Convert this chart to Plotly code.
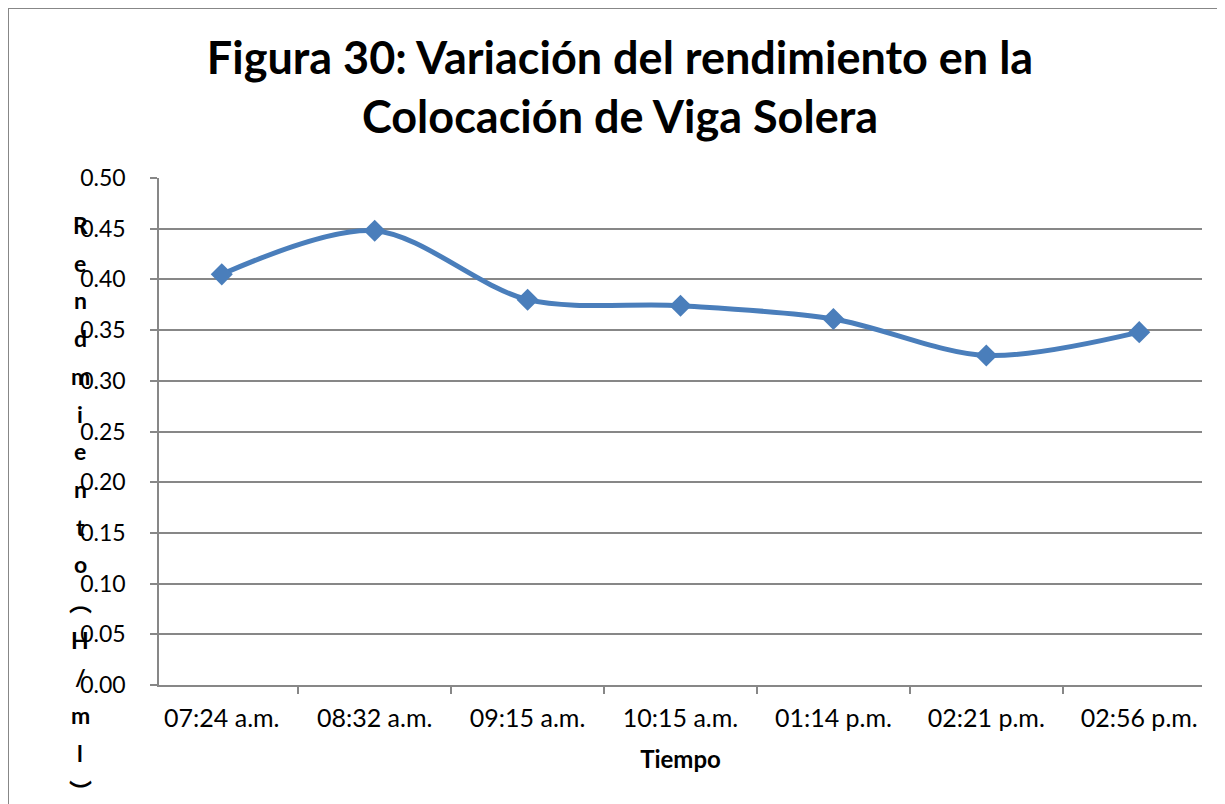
import plotly.graph_objects as go

# data
horas = ["07:24 a.m.", "08:32 a.m.", "09:15 a.m.", "10:15 a.m.",
         "01:14 p.m.", "02:21 p.m.", "02:56 p.m."]
rendimiento = [0.405, 0.448, 0.380, 0.374, 0.361, 0.325, 0.348]
y_ticks = [0.00, 0.05, 0.10, 0.15, 0.20, 0.25, 0.30, 0.35, 0.40, 0.45, 0.50]

titulo = "Figura 30: Variación del rendimiento en la<br>Colocación de Viga Solera"
eje_y = ["R", "e", "n", "d", "m", "i", "e", "n", "t", "o", "︵", "H", "/", "m", "l", "︶"]

# the html body has an 8px margin, so the figure starts at page (8, 8)
OFF = 8
W, H = 1225, 804
L, R, T, B = 159 - OFF, W - 1202 + OFF, 178 - OFF, H - 685 + OFF
pw, ph = W - L - R, H - T - B

azul = "#4A7EBB"
gris = "#878787"
fuente = "Lato, 'Noto Sans CJK SC', sans-serif"

fig = go.Figure(go.Scatter(
    x=horas, y=rendimiento, mode="lines+markers",
    line=dict(color=azul, width=5, shape="spline", smoothing=0.9),
    marker=dict(symbol="diamond", size=17, color=azul),
    showlegend=False, hoverinfo="x+y"))

# page pixel -> paper coordinates
def px_x(p):
    return (p - OFF - L) / pw

def px_y(p):
    return (H - B - (p - OFF)) / ph

# stacked y axis title, one character per line
anots = []
for i, ch in enumerate(eje_y):
    anots.append(dict(text="<b>" + ch + "</b>", x=px_x(80), y=px_y(225 + i * 37.7),
                      xref="paper", yref="paper", showarrow=False,
                      xanchor="center", yanchor="middle",
                      font=dict(family=fuente, size=23, color="black")))

fig.update_layout(
    width=W, height=H,
    margin=dict(l=L, r=R, t=T, b=B),
    paper_bgcolor="white", plot_bgcolor="white",
    font=dict(family=fuente, color="black"),
    title=dict(text="<b>" + titulo + "</b>", x=px_x(620), xanchor="center", xref="paper",
               y=1 - 66 / H, yanchor="middle",
               font=dict(family=fuente, size=45, color="black")),
    annotations=anots,
    shapes=[dict(type="rect", xref="paper", yref="paper",
                 x0=px_x(8), x1=px_x(1300), y0=px_y(900), y1=px_y(8),
                 line=dict(color=gris, width=2), layer="below")],
)

fig.update_xaxes(
    type="category", showline=True, linecolor=gris, linewidth=1.5,
    ticks="outside", tickson="boundaries", ticklen=7, tickcolor=gris, tickwidth=1.5,
    showgrid=False, ticklabelstandoff=10,
    tickfont=dict(family=fuente, size=25, color="black"),
    title=dict(text="<b>Tiempo</b>", standoff=20,
               font=dict(family=fuente, size=24, color="black")))

fig.update_yaxes(
    range=[0, 0.5], tickvals=y_ticks, tickformat=".2f",
    showline=True, linecolor=gris, linewidth=1.5,
    ticks="outside", ticklen=7, tickcolor=gris, tickwidth=1.5,
    showgrid=True, gridcolor=gris, gridwidth=1.5, zeroline=False,
    ticklabelstandoff=20,
    tickfont=dict(family=fuente, size=23, color="black"))

fig.write_html("out.html", config={"displayModeBar": False})
